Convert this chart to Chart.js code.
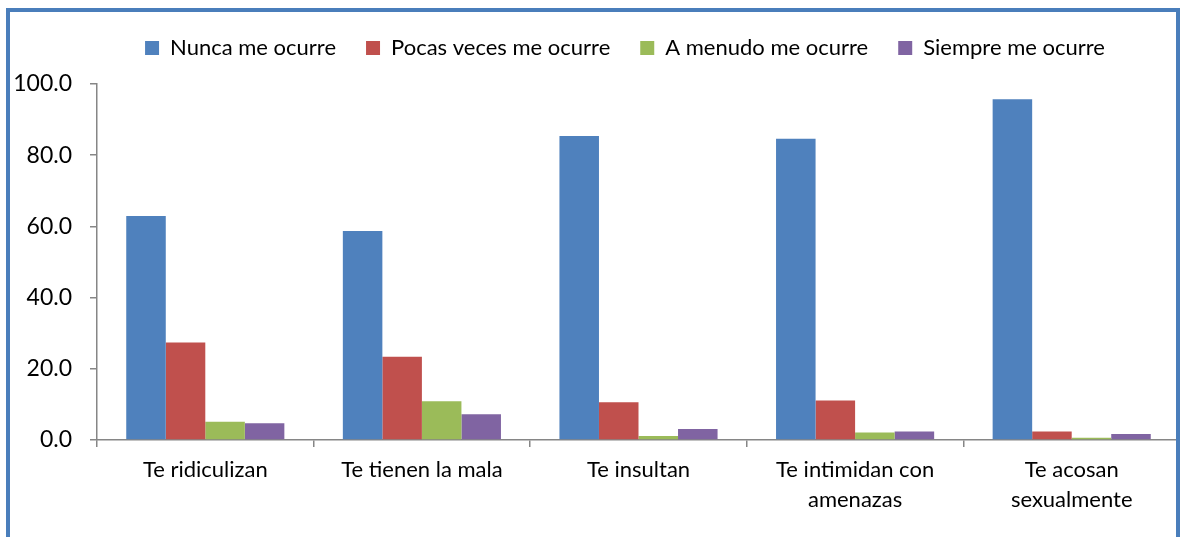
<!DOCTYPE html>
<html>
<head>
<meta charset="utf-8">
<script src="https://cdn.jsdelivr.net/npm/chart.js@4"></script>
<style>
  body { margin: 0; background: #fff; overflow: hidden; }
  #wrap { position: relative; width: 1180px; height: 537px; }
  #frame {
    position: absolute; left: 6px; top: 8px;
    width: 1166px; height: 600px;
    border: 4px solid #4a7ebb;
    pointer-events: none;
  }
</style>
</head>
<body>
<div id="wrap">
  <canvas id="chart" width="1180" height="537"></canvas>
  <div id="frame"></div>
</div>
<script>
// categories and series
const categories = [
  'Te ridiculizan',
  'Te tienen la mala',
  'Te insultan',
  ['Te intimidan con', 'amenazas'],
  ['Te acosan', 'sexualmente']
];
const seriesNames = ['Nunca me ocurre', 'Pocas veces me ocurre', 'A menudo me ocurre', 'Siempre me ocurre'];
const nunca = [62.9, 58.7, 85.4, 84.6, 95.7];
const pocas = [27.4, 23.4, 10.6, 11.1, 2.4];
const menudo = [5.1, 10.9, 1.1, 2.1, 0.6];
const siempre = [4.7, 7.2, 3.1, 2.4, 1.7];
const yTicks = [0, 20, 40, 60, 80, 100];

const colors = ['#4f81bd', '#c0504d', '#9bbb59', '#8064a2'];
const axisGray = '#868686';
const fontFamily = "Lato, 'Liberation Sans', sans-serif";

// fix legend height so the plot top lands where it does in the reference
const layoutTweaks = {
  id: 'layoutTweaks',
  beforeInit(chart) {
    const legend = chart.legend;
    const origFit = legend.fit;
    legend.fit = function () {
      origFit.call(this);
      this.height = 77;
    };
  },
  afterLayout(chart) {
    // legend is centred a bit right of the canvas middle in the original
    chart.legend.left += 35;
    chart.legend.right += 35;
  }
};

const datasets = [nunca, pocas, menudo, siempre].map((vals, i) => ({
  label: seriesNames[i],
  data: vals,
  backgroundColor: colors[i],
  borderWidth: 0,
  categoryPercentage: 0.73,
  barPercentage: 1.0
}));

new Chart(document.getElementById('chart').getContext('2d'), {
  type: 'bar',
  data: { labels: categories, datasets },
  plugins: [layoutTweaks],
  options: {
    responsive: false,
    animation: false,
    layout: { padding: { top: 7, left: 0, right: 0, bottom: 0 } },
    plugins: {
      tooltip: { enabled: false },
      legend: {
        position: 'top',
        labels: {
          boxWidth: 14,
          boxHeight: 14,
          padding: 30,
          color: '#000',
          font: { family: fontFamily, size: 22 }
        }
      }
    },
    scales: {
      x: {
        afterFit(scale) { scale.height = 97; },
        grid: {
          offset: true,
          drawOnChartArea: false,
          tickLength: 7,
          color: axisGray,
          lineWidth: 1.5
        },
        border: { color: axisGray, width: 1.5 },
        ticks: {
          color: '#000',
          padding: 8,
          autoSkip: false,
          maxRotation: 0,
          font: { family: fontFamily, size: 22, lineHeight: 1.36 }
        }
      },
      y: {
        min: 0,
        max: 100,
        afterFit(scale) { scale.width = 97; },
        afterBuildTicks(scale) { scale.ticks = yTicks.map(v => ({ value: v })); },
        grid: {
          drawOnChartArea: false,
          tickLength: 7,
          color: axisGray,
          lineWidth: 1.5
        },
        border: { color: axisGray, width: 1.5 },
        ticks: {
          color: '#000',
          padding: 18,
          font: { family: fontFamily, size: 23 },
          callback: v => Number(v).toFixed(1)
        }
      }
    }
  }
});
</script>
</body>
</html>
